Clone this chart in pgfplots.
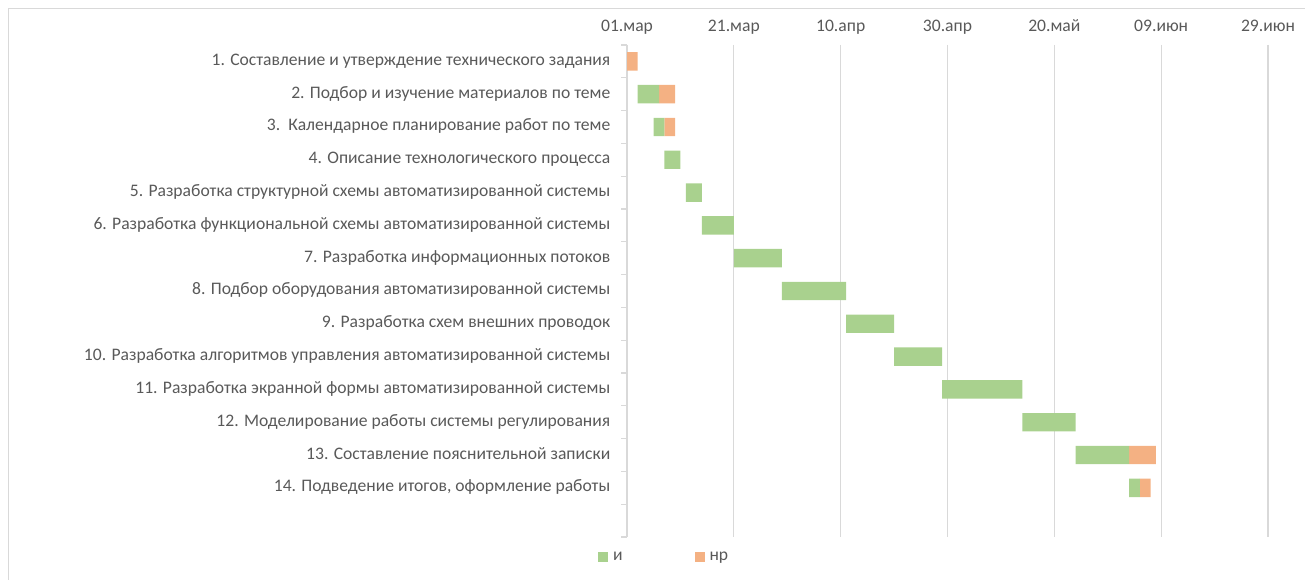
\documentclass[border=0pt]{standalone}
\usepackage{fontspec}
\setmainfont{Carlito}
\usepackage{pgfplots}
\pgfplotsset{compat=1.18}
\definecolor{cI}{HTML}{A9D18E}
\definecolor{cNR}{HTML}{F4B183}
\definecolor{txt}{HTML}{595959}
\definecolor{grd}{HTML}{D9D9D9}
\begin{document}
\begin{tikzpicture}[x=1bp,y=1bp]
\useasboundingbox (0,0) rectangle (1305,580);
\draw[grd, line width=1bp] (8,0) -- (8,571) -- (1305,571);
\begin{axis}[
  at={(627bp,43bp)}, anchor=south west,
  scale only axis, width=641bp, height=492bp,
  xbar stacked, bar width=18.4bp,
  xmin=0, xmax=120, ymin=0.5, ymax=15.5, y dir=reverse,
  axis x line*=top, axis y line*=left,
  x axis line style={draw=none},
  y axis line style={draw=grd, line width=1.2bp},
  xtick={0,20,...,120},
  xticklabels={01.мар,21.мар,10.апр,30.апр,20.май,09.июн,29.июн},
  xticklabel pos=right,
  typeset ticklabels with strut,
  xmajorgrids, grid style={draw=grd, line width=1.2bp},
  major x tick style={draw=none},
  ytick={1,...,14},
  yticklabels={
    1. Составление и утверждение технического задания,
    2. Подбор и изучение материалов по теме,
    3.\ \ Календарное планирование работ по теме,
    4. Описание технологического процесса,
    5. Разработка структурной схемы автоматизированной системы,
    6. Разработка функциональной схемы автоматизированной системы,
    7. Разработка информационных потоков,
    8. Подбор оборудования автоматизированной системы,
    9. Разработка схем внешних проводок,
    10. Разработка алгоритмов управления автоматизированной системы,
    11. Разработка экранной формы автоматизированной системы,
    12. Моделирование работы системы регулирования,
    13. Составление пояснительной записки,
    14. Подведение итогов{,} оформление работы},
  major y tick style={draw=none},
  minor ytick={0.5,1.5,...,15.5},
  minor y tick style={draw=grd, line width=1.2bp},
  minor tick length=6bp, tick align=outside,
  tick label style={font=\fontsize{17.6bp}{20bp}\selectfont, text=txt},
  yticklabel style={xshift=-9bp},
  legend style={at={(0.058,-0.041)}, anchor=center, draw=none, fill=none,
    legend columns=2, font=\fontsize{17.6bp}{20bp}\selectfont, text=txt,
    /tikz/every even column/.append style={column sep=70bp}},
  legend image code/.code={\fill[#1] (0bp,-5bp) rectangle (10bp,5bp);},
]
\addplot[draw=none, fill=none, forget plot] coordinates {
(0,1) (2,2) (5,3) (7,4) (11,5) (14,6) (20,7) (29,8) (41,9) (50,10) (59,11) (74,12) (84,13) (94,14)};
\addplot[draw=none, fill=cI] coordinates {
(0,1) (4,2) (2,3) (3,4) (3,5) (6,6) (9,7) (12,8) (9,9) (9,10) (15,11) (10,12) (10,13) (2,14)};
\addplot[draw=none, fill=cNR] coordinates {
(2,1) (3,2) (2,3) (0,4) (0,5) (0,6) (0,7) (0,8) (0,9) (0,10) (0,11) (0,12) (5,13) (2,14)};
\legend{\,и,\,нр}
\end{axis}
\end{tikzpicture}
\end{document}
